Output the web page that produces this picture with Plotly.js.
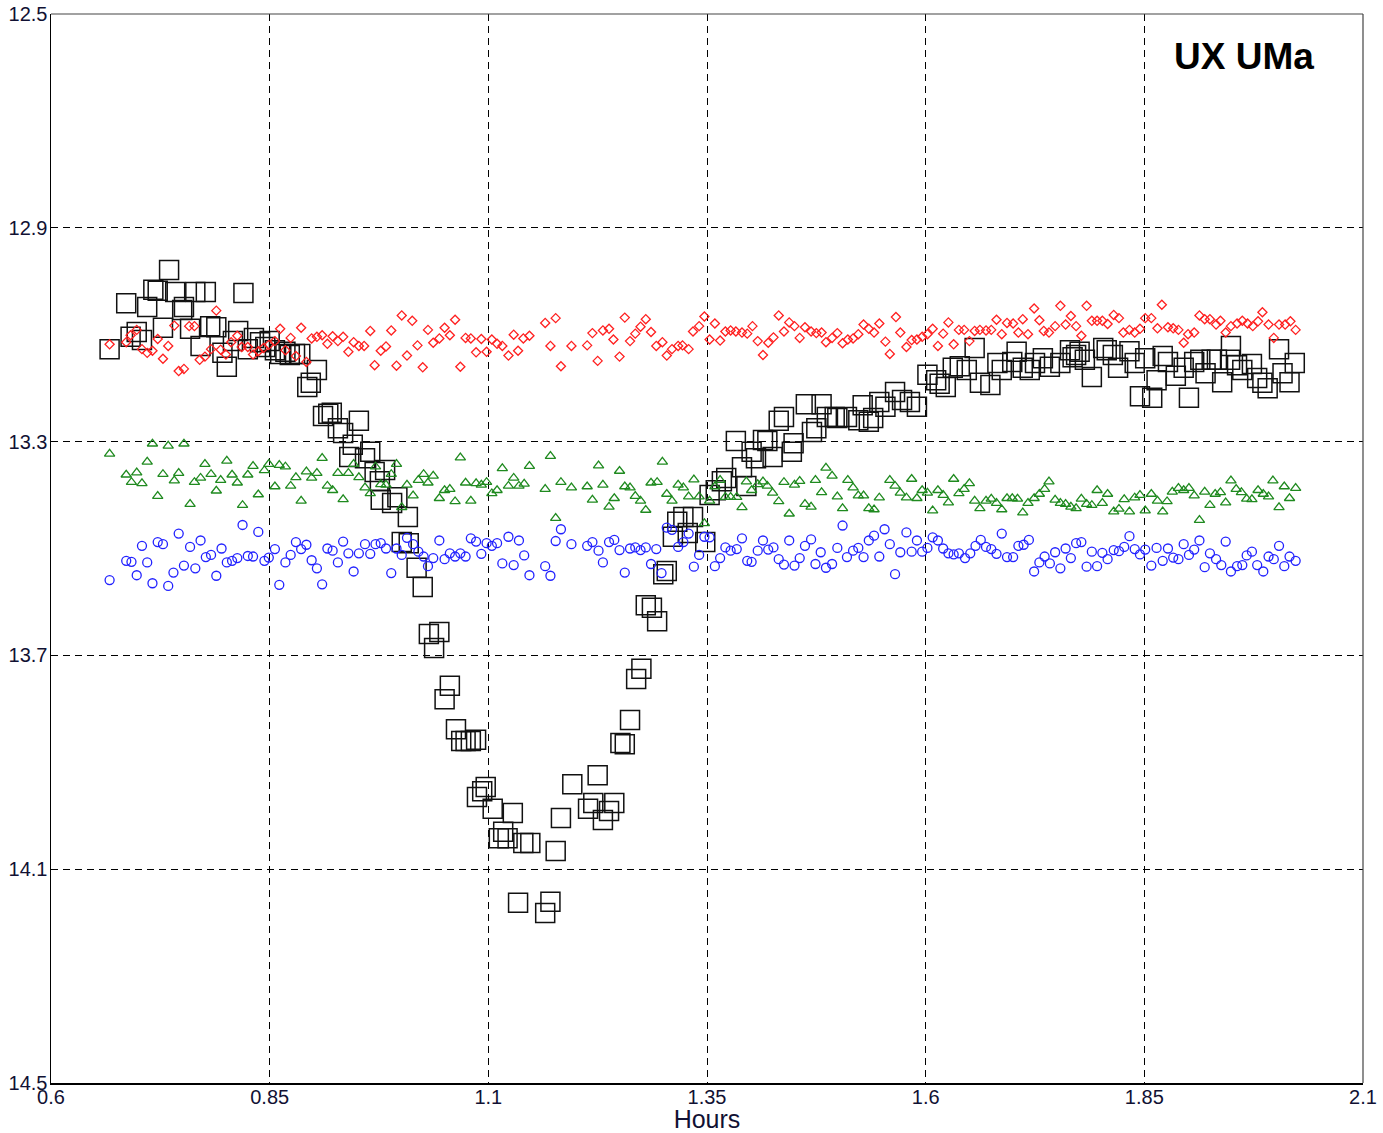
<!DOCTYPE html>
<html>
<head>
<meta charset="utf-8">
<script src="https://cdn.plot.ly/plotly-3.0.1.min.js"></script>
<style>html,body{margin:0;padding:0;background:#fff;}#chart{width:1383px;height:1133px;}</style>
</head>
<body>
<div id="chart"></div>
<script>
// Tick values / labels
const xTickVals = [0.6, 0.85, 1.1, 1.35, 1.6, 1.85, 2.1];
const xTickText = ["0.6", "0.85", "1.1", "1.35", "1.6", "1.85", "2.1"];
const yTickVals = [12.5, 12.9, 13.3, 13.7, 14.1, 14.5];
const yTickText = ["12.5", "12.9", "13.3", "13.7", "14.1", "14.5"];
const chartTitle = "UX UMa";
const xTitle = "Hours";

// UX UMa (variable, black squares)
const uxHours = [0.667,0.686,0.691,0.698,0.704,0.710,0.717,0.722,0.728,0.735,0.742,0.750,0.752,0.759,0.765,0.771,0.777,0.782,0.789,0.796,0.801,0.808,0.814,0.820,0.825,0.832,0.839,0.845,0.850,0.856,0.862,0.868,0.873,0.879,0.885,0.893,0.897,0.904,0.911,0.917,0.921,0.928,0.934,0.941,0.945,0.952,0.959,0.965,0.970,0.976,0.977,0.982,0.990,0.996,1.001,1.008,1.009,1.018,1.025,1.032,1.038,1.044,1.050,1.056,1.063,1.069,1.074,1.080,1.086,1.087,1.093,1.097,1.105,1.112,1.117,1.122,1.128,1.134,1.140,1.148,1.165,1.171,1.177,1.183,1.196,1.214,1.220,1.225,1.231,1.238,1.244,1.251,1.256,1.262,1.269,1.275,1.280,1.287,1.293,1.300,1.304,1.311,1.316,1.323,1.328,1.334,1.348,1.353,1.360,1.367,1.372,1.383,1.390,1.395,1.401,1.406,1.414,1.419,1.425,1.432,1.438,1.447,1.449,1.463,1.470,1.475,1.481,1.487,1.496,1.499,1.510,1.523,1.528,1.535,1.540,1.547,1.554,1.565,1.573,1.582,1.590,1.602,1.612,1.616,1.623,1.631,1.639,1.647,1.656,1.662,1.674,1.682,1.687,1.699,1.704,1.711,1.719,1.725,1.734,1.742,1.754,1.765,1.768,1.772,1.776,1.782,1.790,1.803,1.807,1.814,1.820,1.833,1.839,1.845,1.851,1.859,1.864,1.871,1.877,1.886,1.895,1.901,1.907,1.914,1.920,1.927,1.933,1.939,1.948,1.949,1.956,1.962,1.973,1.979,1.985,1.991,2.004,2.008,2.016,2.022];
const uxMag = [13.127,13.041,13.104,13.095,13.110,13.048,13.016,13.018,13.087,12.979,13.020,13.054,13.048,13.089,13.020,13.121,13.020,13.084,13.086,13.134,13.160,13.112,13.093,13.022,13.127,13.106,13.114,13.123,13.112,13.129,13.136,13.132,13.138,13.136,13.136,13.198,13.190,13.166,13.252,13.248,13.246,13.275,13.284,13.329,13.306,13.261,13.331,13.319,13.357,13.374,13.409,13.353,13.415,13.404,13.488,13.441,13.490,13.536,13.572,13.660,13.686,13.656,13.782,13.757,13.838,13.860,13.860,13.860,13.858,13.965,13.954,13.946,13.987,14.042,14.030,14.042,13.995,14.163,14.051,14.051,14.182,14.161,14.066,14.004,13.941,13.987,13.976,13.924,14.008,13.991,13.976,13.864,13.866,13.821,13.744,13.725,13.606,13.611,13.636,13.548,13.542,13.478,13.450,13.441,13.471,13.441,13.488,13.400,13.391,13.374,13.368,13.299,13.348,13.383,13.319,13.331,13.297,13.299,13.329,13.261,13.254,13.319,13.303,13.230,13.282,13.275,13.230,13.254,13.254,13.256,13.254,13.260,13.232,13.263,13.256,13.226,13.235,13.207,13.222,13.226,13.235,13.175,13.185,13.192,13.198,13.162,13.159,13.166,13.125,13.190,13.194,13.153,13.166,13.151,13.132,13.162,13.166,13.153,13.144,13.160,13.153,13.129,13.142,13.138,13.132,13.147,13.179,13.125,13.129,13.138,13.162,13.131,13.153,13.215,13.144,13.218,13.185,13.140,13.151,13.177,13.162,13.218,13.151,13.147,13.172,13.147,13.147,13.189,13.147,13.121,13.157,13.166,13.155,13.181,13.190,13.200,13.127,13.172,13.189,13.153];

// Comparison star 1 (red diamonds)
const redHours = [0.667,0.686,0.691,0.698,0.704,0.710,0.716,0.722,0.728,0.734,0.741,0.746,0.752,0.758,0.764,0.770,0.776,0.783,0.789,0.794,0.800,0.806,0.813,0.818,0.825,0.831,0.837,0.843,0.849,0.856,0.862,0.868,0.874,0.880,0.886,0.892,0.898,0.904,0.910,0.916,0.922,0.928,0.934,0.940,0.946,0.952,0.958,0.965,0.970,0.977,0.983,0.989,0.995,1.001,1.007,1.013,1.019,1.025,1.031,1.037,1.044,1.050,1.056,1.062,1.068,1.074,1.080,1.086,1.092,1.098,1.104,1.110,1.116,1.123,1.129,1.134,1.140,1.147,1.165,1.171,1.177,1.183,1.195,1.213,1.219,1.225,1.231,1.238,1.243,1.250,1.256,1.262,1.268,1.274,1.280,1.286,1.292,1.299,1.304,1.310,1.317,1.322,1.329,1.334,1.341,1.347,1.353,1.359,1.365,1.371,1.377,1.383,1.390,1.396,1.402,1.408,1.414,1.420,1.426,1.432,1.438,1.444,1.450,1.456,1.462,1.469,1.475,1.481,1.486,1.493,1.499,1.505,1.511,1.517,1.523,1.529,1.535,1.541,1.547,1.554,1.559,1.566,1.571,1.578,1.584,1.590,1.596,1.602,1.608,1.614,1.620,1.626,1.632,1.638,1.644,1.650,1.656,1.662,1.669,1.675,1.681,1.687,1.693,1.700,1.706,1.711,1.717,1.724,1.730,1.735,1.741,1.748,1.754,1.760,1.766,1.772,1.778,1.784,1.790,1.796,1.802,1.808,1.815,1.821,1.826,1.833,1.839,1.845,1.851,1.858,1.865,1.870,1.877,1.883,1.889,1.895,1.900,1.907,1.913,1.919,1.925,1.932,1.937,1.943,1.949,1.956,1.962,1.968,1.974,1.980,1.985,1.992,1.998,2.004,2.011,2.017,2.023];
const redMag = [13.118,13.114,13.101,13.091,13.127,13.134,13.130,13.108,13.145,13.121,13.083,13.168,13.164,13.084,13.084,13.147,13.141,13.127,13.055,13.128,13.137,13.114,13.102,13.123,13.123,13.137,13.131,13.125,13.119,13.112,13.089,13.129,13.106,13.140,13.087,13.151,13.107,13.104,13.101,13.117,13.103,13.112,13.104,13.132,13.114,13.121,13.121,13.093,13.157,13.130,13.122,13.092,13.158,13.064,13.139,13.074,13.120,13.161,13.091,13.115,13.107,13.087,13.101,13.072,13.160,13.106,13.107,13.133,13.108,13.132,13.109,13.117,13.121,13.139,13.100,13.130,13.107,13.102,13.078,13.121,13.069,13.159,13.121,13.120,13.097,13.149,13.092,13.089,13.109,13.141,13.068,13.112,13.098,13.085,13.071,13.095,13.121,13.114,13.139,13.127,13.121,13.120,13.127,13.094,13.084,13.066,13.109,13.079,13.111,13.094,13.092,13.094,13.096,13.098,13.084,13.112,13.138,13.115,13.105,13.064,13.094,13.077,13.084,13.106,13.086,13.094,13.097,13.096,13.114,13.106,13.097,13.116,13.109,13.107,13.099,13.081,13.089,13.096,13.079,13.113,13.136,13.067,13.096,13.123,13.110,13.109,13.104,13.099,13.089,13.121,13.098,13.077,13.118,13.091,13.091,13.112,13.093,13.091,13.092,13.091,13.072,13.099,13.078,13.079,13.096,13.071,13.099,13.051,13.073,13.093,13.096,13.084,13.046,13.081,13.065,13.084,13.102,13.046,13.074,13.074,13.074,13.080,13.063,13.069,13.096,13.091,13.096,13.089,13.069,13.069,13.088,13.044,13.086,13.088,13.091,13.115,13.099,13.096,13.064,13.071,13.071,13.081,13.074,13.096,13.084,13.079,13.074,13.079,13.084,13.075,13.058,13.081,13.106,13.081,13.081,13.075,13.091];

// Comparison star 2 (green triangles)
const greenHours = [0.667,0.686,0.692,0.698,0.704,0.710,0.716,0.722,0.728,0.734,0.741,0.746,0.752,0.759,0.764,0.771,0.776,0.783,0.789,0.794,0.801,0.807,0.813,0.819,0.825,0.831,0.837,0.844,0.849,0.856,0.861,0.868,0.874,0.880,0.886,0.892,0.898,0.904,0.910,0.916,0.922,0.928,0.934,0.940,0.946,0.952,0.959,0.965,0.971,0.977,0.983,0.989,0.995,1.001,1.007,1.014,1.020,1.026,1.031,1.037,1.044,1.050,1.056,1.062,1.068,1.074,1.080,1.086,1.092,1.098,1.104,1.110,1.116,1.123,1.129,1.135,1.141,1.147,1.165,1.171,1.177,1.183,1.195,1.213,1.219,1.226,1.231,1.238,1.244,1.250,1.256,1.262,1.268,1.274,1.280,1.286,1.293,1.299,1.304,1.310,1.317,1.323,1.329,1.335,1.341,1.347,1.353,1.359,1.365,1.371,1.377,1.384,1.390,1.395,1.401,1.408,1.414,1.419,1.425,1.432,1.438,1.444,1.450,1.456,1.462,1.469,1.474,1.481,1.486,1.493,1.499,1.505,1.511,1.517,1.523,1.529,1.535,1.541,1.547,1.559,1.565,1.571,1.578,1.584,1.590,1.596,1.602,1.608,1.614,1.620,1.626,1.632,1.638,1.644,1.650,1.656,1.662,1.669,1.675,1.681,1.687,1.693,1.699,1.705,1.711,1.717,1.724,1.730,1.736,1.741,1.748,1.754,1.760,1.766,1.772,1.778,1.784,1.790,1.796,1.802,1.808,1.815,1.821,1.827,1.833,1.839,1.845,1.851,1.858,1.865,1.871,1.876,1.882,1.889,1.895,1.901,1.907,1.913,1.919,1.925,1.931,1.937,1.943,1.949,1.955,1.961,1.967,1.973,1.980,1.986,1.992,1.997,2.004,2.010,2.016,2.023];
const greenMag = [13.323,13.362,13.376,13.358,13.378,13.338,13.304,13.402,13.361,13.308,13.373,13.359,13.304,13.417,13.376,13.368,13.342,13.361,13.392,13.372,13.336,13.362,13.377,13.419,13.362,13.346,13.399,13.354,13.342,13.384,13.344,13.347,13.383,13.367,13.411,13.356,13.368,13.359,13.331,13.383,13.391,13.359,13.408,13.359,13.342,13.367,13.386,13.397,13.347,13.380,13.381,13.361,13.342,13.423,13.381,13.401,13.372,13.361,13.377,13.364,13.406,13.391,13.389,13.412,13.330,13.377,13.411,13.378,13.381,13.376,13.397,13.391,13.350,13.383,13.368,13.383,13.379,13.346,13.389,13.327,13.443,13.376,13.386,13.384,13.409,13.345,13.381,13.422,13.406,13.355,13.384,13.386,13.402,13.411,13.428,13.377,13.376,13.338,13.398,13.411,13.381,13.386,13.403,13.371,13.403,13.453,13.411,13.384,13.372,13.404,13.404,13.404,13.423,13.375,13.391,13.380,13.375,13.383,13.396,13.412,13.376,13.435,13.381,13.374,13.417,13.422,13.372,13.395,13.349,13.364,13.403,13.425,13.372,13.386,13.401,13.401,13.425,13.427,13.405,13.372,13.383,13.396,13.405,13.370,13.406,13.391,13.396,13.429,13.391,13.400,13.414,13.370,13.397,13.389,13.378,13.411,13.425,13.411,13.407,13.415,13.427,13.406,13.406,13.407,13.433,13.415,13.406,13.398,13.389,13.375,13.409,13.415,13.417,13.422,13.425,13.407,13.417,13.419,13.391,13.415,13.398,13.431,13.426,13.408,13.431,13.405,13.400,13.429,13.398,13.411,13.431,13.412,13.394,13.387,13.391,13.387,13.401,13.447,13.394,13.419,13.398,13.395,13.414,13.373,13.389,13.395,13.407,13.408,13.391,13.398,13.403,13.373,13.423,13.384,13.406,13.387];

// Comparison star 3 (blue circles)
const blueHours = [0.667,0.686,0.692,0.698,0.704,0.710,0.716,0.722,0.728,0.734,0.740,0.746,0.752,0.759,0.765,0.771,0.777,0.783,0.789,0.795,0.801,0.807,0.813,0.819,0.825,0.831,0.837,0.844,0.849,0.856,0.861,0.868,0.874,0.880,0.886,0.892,0.898,0.904,0.910,0.916,0.922,0.928,0.934,0.940,0.946,0.952,0.959,0.965,0.971,0.977,0.983,0.989,0.995,1.001,1.007,1.014,1.020,1.026,1.031,1.037,1.044,1.050,1.056,1.062,1.068,1.074,1.080,1.086,1.092,1.098,1.104,1.110,1.116,1.123,1.129,1.135,1.141,1.147,1.165,1.171,1.177,1.183,1.195,1.213,1.219,1.226,1.231,1.238,1.244,1.250,1.256,1.262,1.268,1.274,1.280,1.286,1.292,1.298,1.304,1.310,1.317,1.323,1.329,1.335,1.341,1.347,1.353,1.359,1.365,1.371,1.377,1.384,1.390,1.396,1.401,1.408,1.414,1.420,1.426,1.432,1.438,1.444,1.450,1.456,1.462,1.469,1.474,1.480,1.486,1.493,1.499,1.505,1.510,1.517,1.523,1.529,1.535,1.541,1.547,1.553,1.559,1.565,1.571,1.578,1.584,1.590,1.596,1.602,1.608,1.614,1.620,1.626,1.632,1.638,1.645,1.651,1.657,1.663,1.669,1.675,1.681,1.687,1.693,1.700,1.706,1.712,1.718,1.724,1.730,1.736,1.742,1.748,1.754,1.760,1.766,1.772,1.778,1.784,1.790,1.796,1.802,1.808,1.815,1.821,1.827,1.833,1.839,1.845,1.851,1.858,1.864,1.871,1.877,1.883,1.889,1.895,1.901,1.907,1.913,1.919,1.925,1.932,1.938,1.943,1.949,1.956,1.962,1.967,1.973,1.979,1.986,1.992,1.998,2.004,2.010,2.016,2.023];
const blueMag = [13.559,13.523,13.525,13.550,13.495,13.526,13.565,13.488,13.492,13.570,13.545,13.472,13.532,13.497,13.537,13.485,13.516,13.512,13.551,13.500,13.526,13.523,13.518,13.456,13.514,13.515,13.469,13.523,13.517,13.501,13.568,13.526,13.512,13.488,13.501,13.493,13.522,13.537,13.567,13.500,13.504,13.526,13.487,13.509,13.543,13.509,13.492,13.510,13.492,13.490,13.500,13.546,13.500,13.512,13.480,13.492,13.506,13.515,13.533,13.518,13.485,13.520,13.509,13.515,13.509,13.515,13.481,13.487,13.510,13.490,13.495,13.490,13.528,13.478,13.531,13.485,13.513,13.550,13.533,13.551,13.486,13.464,13.492,13.495,13.488,13.504,13.526,13.488,13.484,13.503,13.545,13.500,13.498,13.503,13.498,13.529,13.501,13.546,13.461,13.465,13.497,13.488,13.472,13.534,13.512,13.478,13.479,13.533,13.518,13.498,13.504,13.501,13.481,13.523,13.525,13.504,13.485,13.502,13.498,13.520,13.530,13.485,13.532,13.518,13.495,13.483,13.529,13.507,13.536,13.529,13.499,13.457,13.516,13.504,13.499,13.516,13.485,13.476,13.515,13.464,13.492,13.548,13.507,13.470,13.506,13.485,13.506,13.499,13.479,13.485,13.500,13.509,13.511,13.509,13.518,13.509,13.495,13.484,13.497,13.501,13.510,13.472,13.516,13.516,13.495,13.493,13.484,13.543,13.526,13.515,13.528,13.507,13.537,13.500,13.518,13.490,13.488,13.534,13.506,13.533,13.508,13.520,13.503,13.505,13.497,13.477,13.501,13.511,13.502,13.532,13.499,13.523,13.500,13.517,13.520,13.492,13.512,13.502,13.485,13.535,13.509,13.520,13.531,13.487,13.543,13.533,13.531,13.513,13.506,13.531,13.543,13.515,13.520,13.495,13.533,13.515,13.523];

const FONT = '"Liberation Sans", Arial, Helvetica, sans-serif';

const traces = [
  {x: uxHours, y: uxMag, type: 'scatter', mode: 'markers', name: 'UX UMa',
   marker: {symbol: 'square-open', size: 19, color: '#111111', line: {width: 1.5, color: '#111111'}}},
  {x: redHours, y: redMag, type: 'scatter', mode: 'markers', name: 'comp 1',
   marker: {symbol: 'diamond-open', size: 7, color: '#ff2020', line: {width: 1.3, color: '#ff2020'}}},
  {x: greenHours, y: greenMag, type: 'scatter', mode: 'markers', name: 'comp 2',
   marker: {symbol: 'triangle-up-open', size: 9, color: '#1f8a1f', line: {width: 1.3, color: '#1f8a1f'}}},
  {x: blueHours, y: blueMag, type: 'scatter', mode: 'markers', name: 'comp 3',
   marker: {symbol: 'circle-open', size: 9, color: '#2222ff', line: {width: 1.3, color: '#2222ff'}}}
];

const layout = {
  width: 1383, height: 1133,
  margin: {l: 51, r: 20, t: 14, b: 50, pad: 0},
  paper_bgcolor: '#ffffff', plot_bgcolor: '#ffffff',
  showlegend: false,
  font: {family: FONT, color: '#111111'},
  xaxis: {
    range: [0.6, 2.1], tickvals: xTickVals, ticktext: xTickText,
    showgrid: true, gridcolor: '#000000', gridwidth: 1, griddash: '7px,5px',
    zeroline: false, showline: true, linecolor: '#000000', linewidth: 1.5,
    ticks: '', tickfont: {size: 20, family: FONT, color: '#111133'},
    ticklabelstandoff: -5,
    title: {text: xTitle, font: {size: 25, family: FONT, color: '#111133'}, standoff: 0}
  },
  yaxis: {
    range: [14.5, 12.5], tickvals: yTickVals, ticktext: yTickText,
    showgrid: true, gridcolor: '#000000', gridwidth: 1, griddash: '7px,5px',
    zeroline: false, showline: true, linecolor: '#000000', linewidth: 1.5,
    ticks: '', tickfont: {size: 20, family: FONT, color: '#111133'},
    ticklabelstandoff: -2
  },
  shapes: [
    {type: 'line', xref: 'paper', yref: 'paper', x0: 0, x1: 1, y0: 1, y1: 1, line: {color: '#444444', width: 1.2}},
    {type: 'line', xref: 'paper', yref: 'paper', x0: 1, x1: 1, y0: 0, y1: 1, line: {color: '#444444', width: 1.2}}
  ],
  annotations: [
    {text: '<b>' + chartTitle + '</b>', xref: 'paper', yref: 'paper', x: 0.909, y: 0.960,
     xanchor: 'center', yanchor: 'middle', showarrow: false,
     font: {size: 37, family: FONT, color: '#000000'}}
  ]
};

Plotly.newPlot('chart', traces, layout, {displayModeBar: false, staticPlot: true});
</script>
</body>
</html>
